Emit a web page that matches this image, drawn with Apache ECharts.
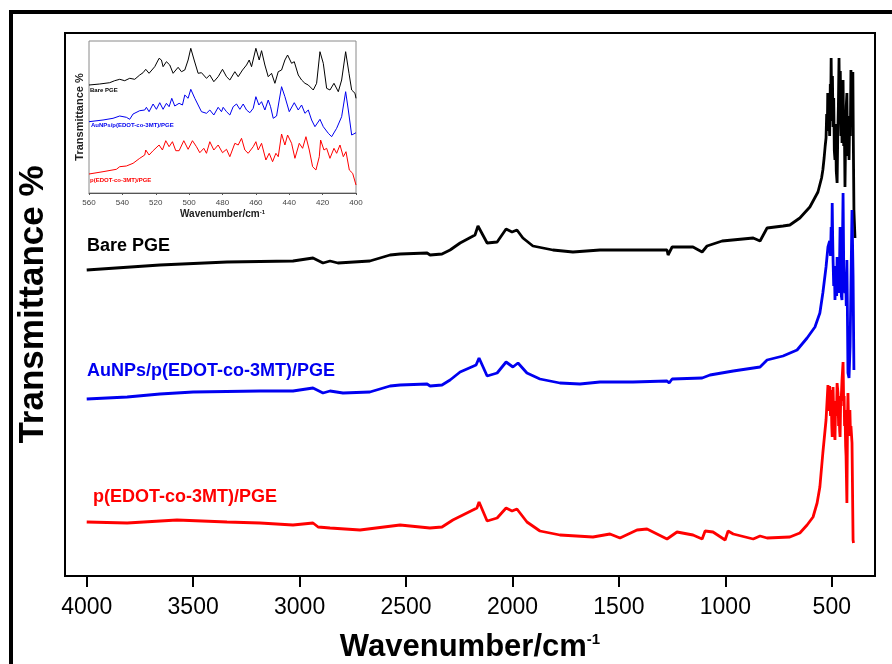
<!DOCTYPE html>
<html>
<head>
<meta charset="utf-8">
<title>FTIR spectra</title>
<script src="https://cdn.jsdelivr.net/npm/echarts@6/dist/echarts.min.js"></script>
<style>
  html, body { margin: 0; padding: 0; background: #fff; }
  #chart { width: 892px; height: 664px; }
</style>
</head>
<body>
<div id="chart"></div>
<script>
// 刻度标签 (cm-1)
const xTicks = [4000, 3500, 3000, 2500, 2000, 1500, 1000, 500];
const insetTicks = [560, 540, 520, 500, 480, 460, 440, 420, 400];

// 主图：波数 / 透过率（任意单位，已含纵向偏移）
const barePGE = [
  [4000, 306], [3656, 311], [3341, 314], [3031, 315], [2937, 318], [2890, 313], [2857, 315],
  [2820, 313], [2670, 315], [2575, 321], [2528, 322], [2401, 323], [2387, 321], [2331, 322],
  [2293, 326], [2246, 333], [2176, 341], [2162, 350], [2119, 333], [2072, 334], [2030, 347],
  [2002, 344], [1979, 346], [1951, 338], [1904, 330], [1810, 326], [1716, 324], [1589, 326],
  [1434, 326], [1274, 326], [1269, 321], [1250, 329], [1152, 329], [1109, 324], [1086, 330],
  [1015, 335], [869, 338], [837, 335], [804, 348], [729, 350], [697, 351], [650, 358],
  [603, 369], [565, 384], [548, 398], [542, 406], [536, 418], [531, 430], [527, 438],
  [524, 462], [521, 445], [519, 483], [516, 447], [513, 458], [510, 440], [507, 492],
  [505, 470], [503, 518], [500, 455], [497, 500], [494, 449], [491, 478], [488, 425],
  [485, 416], [482, 452], [479, 405], [475, 393], [472, 440], [469, 470], [466, 518],
  [463, 455], [460, 505], [457, 440], [454, 480], [452, 433], [449, 470], [447, 496],
  [444, 430], [441, 455], [438, 389], [435, 440], [432, 470], [429, 483], [426, 420],
  [423, 455], [419, 416], [416, 460], [413, 440], [410, 506], [407, 450], [404, 490],
  [401, 504], [399, 440], [396, 366], [391, 338]
];
const auNPs = [
  [4000, 177], [3810, 179], [3656, 182], [3500, 184], [3186, 185], [3031, 185], [2937, 188],
  [2890, 183], [2857, 185], [2796, 183], [2670, 184], [2575, 190], [2528, 191], [2401, 192],
  [2387, 190], [2331, 191], [2293, 196], [2246, 204], [2171, 211], [2157, 218], [2119, 200],
  [2072, 203], [2030, 214], [1998, 209], [1974, 213], [1932, 203], [1871, 197], [1777, 193],
  [1683, 192], [1589, 194], [1434, 194], [1274, 195], [1264, 193], [1250, 197], [1109, 198],
  [1072, 201], [963, 205], [837, 209], [804, 216], [729, 220], [663, 226], [616, 238],
  [579, 249], [556, 263], [542, 283], [527, 309], [518, 329], [510, 335], [506, 320],
  [503, 349], [500, 330], [498, 373], [496, 340], [494, 316], [491, 290], [488, 310],
  [485, 276], [482, 300], [480, 299], [477, 280], [475, 319], [472, 290], [469, 305],
  [466, 283], [463, 320], [461, 349], [458, 300], [455, 280], [452, 276], [450, 330],
  [447, 383], [444, 310], [441, 290], [438, 283], [435, 300], [432, 270], [429, 316],
  [426, 250], [424, 203], [419, 198], [414, 230], [410, 290], [405, 366], [400, 300],
  [396, 206]
];
const pEDOT = [
  [4000, 54], [3810, 53], [3576, 56], [3341, 54], [3186, 53], [3031, 51], [2937, 53],
  [2913, 49], [2857, 48], [2716, 46], [2528, 51], [2388, 48], [2331, 49], [2280, 56],
  [2167, 68], [2157, 74], [2119, 55], [2072, 58], [2030, 68], [2002, 65], [1979, 67],
  [1932, 54], [1871, 45], [1777, 41], [1622, 39], [1542, 42], [1495, 38], [1415, 46],
  [1368, 47], [1274, 37], [1227, 44], [1152, 41], [1109, 37], [1095, 45], [1058, 44],
  [1001, 36], [987, 45], [963, 42], [869, 37], [837, 40], [804, 38], [697, 39], [650, 43],
  [616, 51], [588, 59], [569, 73], [556, 89], [542, 123], [527, 156], [518, 191],
  [514, 165], [510, 190], [506, 160], [503, 186], [500, 150], [498, 139], [494, 189],
  [491, 160], [489, 150], [485, 136], [482, 175], [478, 160], [475, 193], [471, 183],
  [468, 150], [466, 170], [463, 145], [461, 139], [458, 180], [456, 175], [452, 196],
  [447, 214], [444, 170], [442, 180], [440, 150], [438, 166], [435, 130], [433, 120],
  [429, 73], [426, 160], [424, 183], [421, 150], [419, 140], [415, 166], [412, 140],
  [410, 150], [405, 133], [400, 36], [398, 33]
];

// 插图：400–560 cm-1
const insetBare = [
  [560, 108], [553.6, 109], [547.6, 110.3], [544.6, 112.3], [541.6, 113.7], [538.6, 112.3],
  [535.6, 114.7], [532.6, 113.7], [529.6, 118], [527.6, 120.3], [526, 123.7], [524, 119.7],
  [520.6, 126.3], [518, 134.7], [516.6, 133], [515.6, 126.3], [513.6, 131.3], [511.6, 128],
  [509.6, 119.7], [506.6, 125.7], [504.6, 121.3], [502.6, 123], [500.6, 133], [499, 144.7],
  [497, 133], [494.6, 119.7], [492.6, 120.3], [489.6, 114.7], [487.6, 118], [485.2, 111.3],
  [482.6, 116.3], [480, 123.7], [477.6, 116.3], [475.6, 113], [472.6, 121.3], [470.6, 116.3],
  [468, 123], [465.6, 128], [464, 133], [462.6, 126.3], [460, 144.7], [458, 133],
  [456.6, 142.3], [454.6, 128], [452.6, 116.3], [450.6, 119.7], [448.6, 109.7], [446.6, 121.3],
  [444.6, 123], [442.6, 133], [441, 138], [438.6, 129.7], [437, 131.3], [434.6, 118],
  [432.6, 113], [430.6, 109.7], [428.6, 108], [425.6, 103], [423.6, 109.7], [421.6, 141.3],
  [419.6, 129.7], [417.6, 104.7], [415.6, 103], [413.2, 109.7], [410.6, 101.3], [408.6, 113],
  [406.2, 141.3], [404.2, 119.7], [402.6, 103], [400.6, 99.7], [400, 94.7]
];
const insetAu = [
  [560, 71.3], [551.6, 73], [545.6, 74.7], [541.6, 77], [537.6, 75.7], [535.6, 73.7],
  [533.6, 79], [529.6, 82.3], [526.6, 83], [525.6, 85.7], [524, 81.3], [521.6, 89],
  [519.6, 83.7], [517.6, 90.3], [515.6, 83.7], [513.6, 89.7], [512, 86.3], [510.4, 94.7],
  [508.6, 87], [506, 89.7], [504, 88], [502.6, 98], [500.6, 94.7], [499, 103.7],
  [496.6, 94.7], [494.6, 88], [492.6, 81.3], [489.6, 79.7], [487.6, 83], [485.2, 78],
  [482.6, 85.7], [480.6, 81.3], [479.6, 85.7], [477.6, 81.3], [475.6, 78], [473.6, 86.3],
  [471.6, 89], [469.6, 83.7], [467.6, 89], [465.6, 83], [463.6, 80.3], [461.6, 84.7],
  [460, 96.3], [458.2, 88], [456.6, 91.3], [454.6, 83], [452.6, 93], [451.2, 86.3],
  [449.6, 74.7], [447.6, 77], [446, 93], [444.6, 106.3], [442.6, 96.3], [440, 81.3],
  [437, 90.3], [434.6, 83], [432.6, 88], [430.6, 79.7], [428.6, 83], [426.6, 73],
  [424.6, 66.3], [421.6, 73.7], [419.6, 66.3], [416.6, 59.7], [414.6, 56.3], [411.6, 64.7],
  [408.6, 76.3], [406.2, 101.3], [404.6, 83], [402.6, 58], [400.6, 59.7], [400, 60.3]
];
const insetP = [
  [560, 19], [551.6, 21.3], [543.6, 23.7], [541.6, 26.3], [537.6, 27], [533.6, 29.7],
  [529.6, 34.7], [526.6, 38], [526, 43], [524, 38], [521.6, 42.3], [518, 48], [516, 43],
  [514, 52.3], [512, 46.3], [510, 51.3], [508, 42.3], [506, 42.3], [503.2, 52.3],
  [500.6, 43.7], [498, 52.3], [495.6, 46.3], [493.6, 40.3], [491.2, 44.7], [489.6, 39.7],
  [487.6, 51.3], [485.2, 43], [482.6, 48], [480, 40.3], [477.6, 43.7], [475.6, 36.3],
  [472.6, 49.7], [470.6, 48], [468.6, 54.7], [466.6, 43], [464.6, 39.7], [461.6, 46.3],
  [460, 51.3], [458.6, 43], [456.6, 49.7], [454, 33], [452, 39.7], [450, 31.3], [448, 39.7],
  [446.6, 36.3], [444.6, 59], [442.6, 48], [441, 58], [438.6, 49.7], [436.6, 34.7],
  [434, 49.7], [432, 44.7], [430, 56.3], [428, 43], [426, 26.3], [424, 23], [422, 36.3],
  [421.2, 53], [419.2, 43], [417.6, 44.7], [415.6, 34.7], [413.2, 44.7], [411.6, 39.7],
  [409.6, 48], [407.6, 36.3], [406, 41.3], [404, 23], [402, 19.7], [400, 8]
];

const FONT = 'Liberation Sans, Arial, sans-serif';
const BLUE = '#0000f0';
const RED = '#ff0000';

const chart = echarts.init(document.getElementById('chart'), null, {renderer: 'canvas'});

const line = (name, data, color, width, idx) => ({
  name, type: 'line', data, xAxisIndex: idx, yAxisIndex: idx,
  showSymbol: false, symbol: 'none', silent: true,
  lineStyle: {color, width}, z: 3
});

const label = (text, x, y, color, size) => ({
  type: 'text', x, y, z: 10,
  style: {text, fill: color, font: `bold ${size}px ${FONT}`, textVerticalAlign: 'middle'}
});

chart.setOption({
  animation: false,
  backgroundColor: '#fff',
  grid: [
    //主图区域，不让轴名挤压
    {left: 65, right: 17, top: 33, bottom: 88, outerBoundsMode: 'none', containLabel: false,
     show: true, borderColor: '#000', borderWidth: 2},
    //插图
    {left: 89, top: 41, width: 267, height: 152, outerBoundsMode: 'none', containLabel: false,
     show: true, borderColor: '#8a8a8a', borderWidth: 1}
  ],
  xAxis: [{
    type: 'value', gridIndex: 0, inverse: true, min: 297, max: 4102,
    splitLine: {show: false},
    axisLine: {show: true, lineStyle: {color: '#000', width: 2}},
    axisTick: {show: true, length: 11, lineStyle: {color: '#000', width: 2}, customValues: xTicks},
    axisLabel: {customValues: xTicks, formatter: v => String(v), color: '#000', fontSize: 23, fontFamily: FONT, margin: 20},
    name: '{a|Wavenumber/cm}{s|-1}', nameLocation: 'middle', nameGap: 56,
    nameTextStyle: {
      rich: {
        a: {fontSize: 31, fontWeight: 'bold', fontFamily: FONT, color: '#000'},
        s: {fontSize: 15, fontWeight: 'bold', fontFamily: FONT, color: '#000', verticalAlign: 'top', padding: [0, 0, 16, 0]}
      }
    }
  }, {
    type: 'value', gridIndex: 1, inverse: true, min: 400, max: 560, interval: 20,
    splitLine: {show: false},
    axisLine: {show: true, lineStyle: {color: '#555', width: 1}},
    axisTick: {show: true, length: 2, lineStyle: {color: '#555'}},
    axisLabel: {customValues: insetTicks, formatter: v => String(v), color: '#444', fontSize: 8, fontFamily: FONT, margin: 6},
    name: '{a|Wavenumber/cm}{s|-1}', nameLocation: 'middle', nameGap: 16,
    nameTextStyle: {
      rich: {
        a: {fontSize: 10, fontWeight: 'bold', fontFamily: FONT, color: '#222'},
        s: {fontSize: 6, fontWeight: 'bold', fontFamily: FONT, color: '#222', padding: [0, 0, 5, 0]}
      }
    }
  }],
  yAxis: [{
    type: 'value', gridIndex: 0, min: 0, max: 543,
    splitLine: {show: false}, axisLine: {show: false}, axisTick: {show: false}, axisLabel: {show: false},
    name: 'Transmittance %', nameLocation: 'middle', nameRotate: 90, nameGap: 14,
    nameTextStyle: {fontSize: 35, fontWeight: 'bold', fontFamily: FONT, color: '#000'}
  }, {
    type: 'value', gridIndex: 1, min: 0, max: 152,
    splitLine: {show: false}, axisLine: {show: false}, axisTick: {show: false}, axisLabel: {show: false},
    name: 'Transmittance %', nameLocation: 'middle', nameRotate: 90, nameGap: 4,
    nameTextStyle: {fontSize: 11, fontWeight: 'bold', fontFamily: FONT, color: '#222'}
  }],
  series: [
    line('Bare PGE', barePGE, '#000', 2.8, 0),
    line('AuNPs/p(EDOT-co-3MT)/PGE', auNPs, BLUE, 2.8, 0),
    line('p(EDOT-co-3MT)/PGE', pEDOT, RED, 2.8, 0),
    line('Bare PGE (inset)', insetBare, '#000', 1, 1),
    line('AuNPs (inset)', insetAu, BLUE, 1, 1),
    line('p(EDOT) (inset)', insetP, RED, 1, 1)
  ],
  graphic: [
    {type: 'rect', z: 0, shape: {x: 11, y: 12, width: 1000, height: 1000}, style: {fill: 'none', stroke: '#000', lineWidth: 4}},
    label('Bare PGE', 87, 246, '#000', 18),
    label('AuNPs/p(EDOT-co-3MT)/PGE', 87, 371, BLUE, 18),
    label('p(EDOT-co-3MT)/PGE', 93, 497, RED, 18),
    label('Bare PGE', 90, 90, '#000', 6),
    label('AuNPs/p(EDOT-co-3MT)/PGE', 91, 125, BLUE, 6),
    label('p(EDOT-co-3MT)/PGE', 90, 180, RED, 6)
  ]
});
</script>
</body>
</html>
